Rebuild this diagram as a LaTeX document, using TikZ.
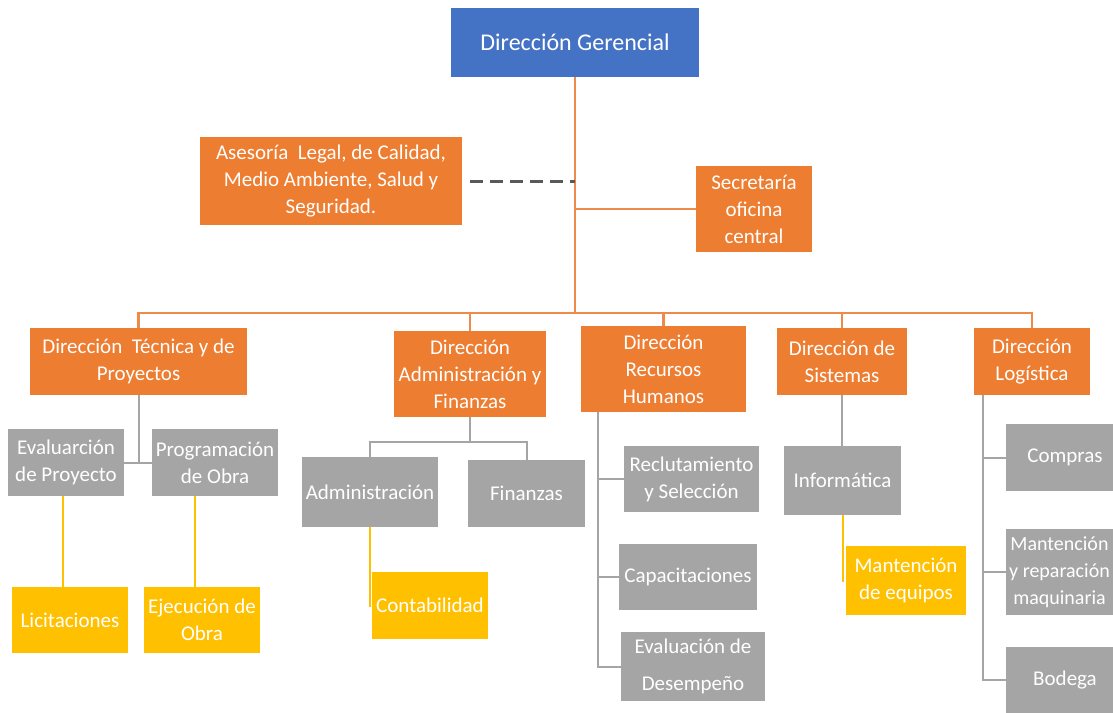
\documentclass[tikz,border=0pt]{standalone}
\usepackage{fontspec}
\setmainfont{Carlito}
\usetikzlibrary{calc}
\definecolor{cblue}{HTML}{4472C4}
\definecolor{corange}{HTML}{ED7D31}
\definecolor{cgray}{HTML}{A5A5A5}
\definecolor{cyellow}{HTML}{FFC000}
\definecolor{cdark}{HTML}{595959}
\definecolor{clineor}{HTML}{F08A4B}
\tikzset{
  box/.style={inner sep=0pt, align=center, text=white, font=\fontsize{21}{27}\selectfont},
  bluebox/.style={box, fill=cblue, font=\fontsize{24}{29}\selectfont},
  orangebox/.style={box, fill=corange},
  graybox/.style={box, fill=cgray},
  yellowbox/.style={box, fill=cyellow},
  sz/.style 2 args={minimum width=#1pt, minimum height=#2pt},
  orangeline/.style={draw=clineor, line width=2.5pt},
  grayline/.style={draw=cgray, line width=2pt},
  yellowline/.style={draw=cyellow, line width=2pt},
  dashline/.style={draw=cdark, line width=3pt, dash pattern=on 13pt off 7pt},
}
\begin{document}
\begin{tikzpicture}[x=1pt,y=-1pt]
\useasboundingbox (0,0) rectangle (1113,712);
\clip (0,0) rectangle (1113,712);
% top
\node[bluebox, sz={248}{69}] (G) at (575,42.5) {Dirección Gerencial};
\node[orangebox, sz={262}{88}] (Asesoria) at (331,181) {Asesoría\ \ Legal, de Calidad,\\Medio Ambiente, Salud y\\Seguridad.};
\node[orangebox, sz={116}{86}] (Secretaria) at (754,209) {Secretaría\\oficina\\central};
% directors
\node[orangebox, sz={217}{67}] (Tecnica) at (138.5,361.5) {Dirección\ \ Técnica y de\\Proyectos};
\node[orangebox, sz={152}{86}] (Admin) at (470,374) {Dirección\\Administración y\\Finanzas};
\node[orangebox, sz={165}{86}] (RH) at (663.5,369) {Dirección\\Recursos\\Humanos};
\node[orangebox, sz={130}{67}] (Sistemas) at (842,361.5) {Dirección de\\Sistemas};
\node[orangebox, sz={116}{67}] (Logistica) at (1032,361.5) {Dirección\\Logística};
% level 2
\node[graybox, sz={116}{67}] (Evaluarcion) at (66,462.5) {Evaluarción\\de Proyecto};
\node[graybox, sz={126}{67}] (Programacion) at (215,462.5) {Programación\\de Obra};
\node[yellowbox, sz={116}{66}] (Licitaciones) at (70,620) {Licitaciones};
\node[yellowbox, sz={116}{66}] (Ejecucion) at (202,620) {Ejecución de\\Obra};
\node[graybox, sz={136}{70}] (Administracion) at (370,492) {Administración};
\node[graybox, sz={117}{67}] (Finanzas) at (526.5,493.5) {Finanzas};
\node[yellowbox, sz={116}{67}] (Contabilidad) at (430,605.5) {Contabilidad};
\node[graybox, sz={135}{66}] (Reclut) at (691.5,479) {Reclutamiento\\y Selección};
\node[graybox, sz={138}{66}] (Capac) at (688,577) {Capacitaciones};
\node[graybox, sz={144}{69}] (EvalDes) at (693,666.5) {Evaluación de\\[10pt]Desempeño};
\node[graybox, sz={117}{69}] (Informatica) at (842.5,480.5) {Informática};
\node[yellowbox, sz={120}{69}] (Mantequipos) at (906,580.5) {Mantención\\de equipos};
\node[graybox, sz={118}{67}] (Compras) at (1065,457.5) {Compras};
\node[graybox, sz={107}{86}, font=\fontsize{20}{27}\selectfont] (Mantrep) at (1059.5,572) {Mantención\\y reparación\\maquinaria};
\node[graybox, sz={118}{66}] (Bodega) at (1065,680) {Bodega};
% orange connectors
\coordinate (bus) at (575,313);
\draw[orangeline] (G.south) -- (bus);
\draw[orangeline] (Secretaria.west) -- (Secretaria.west -| G.south);
\draw[dashline] ($(Asesoria.east)+(8,0)$) -- (Asesoria.east -| G.south);
\draw[orangeline] (Tecnica.north) -- (Tecnica.north |- bus) -- (Logistica.north |- bus) -- (Logistica.north);
\draw[orangeline] (Admin.north) -- (Admin.north |- bus);
\draw[orangeline] (RH.north) -- (RH.north |- bus);
\draw[orangeline] (Sistemas.north) -- (Sistemas.north |- bus);
% gray connectors
\draw[grayline] (Tecnica.south) -- (Tecnica.south |- Evaluarcion.east);
\draw[grayline] (Evaluarcion.east) -- (Programacion.west);
\coordinate (ab) at (470,442);
\draw[grayline] (Admin.south) -- (ab);
\draw[grayline] (Administracion.north) |- (ab) -| (Finanzas.north);
\coordinate (rhtop) at (598,412);
\draw[grayline] (rhtop) |- (EvalDes.west);
\draw[grayline] (rhtop |- Reclut.west) -- (Reclut.west);
\draw[grayline] (rhtop |- Capac.west) -- (Capac.west);
\draw[grayline] (Sistemas.south) -- (Sistemas.south |- Informatica.north);
\coordinate (lgtop) at (983,395);
\draw[grayline] (lgtop) |- (Bodega.west);
\draw[grayline] (lgtop |- Compras.west) -- (Compras.west);
\draw[grayline] (lgtop |- Mantrep.west) -- (Mantrep.west);
% yellow connectors
\coordinate (ev) at (63,587);
\draw[yellowline] (ev) -- (ev |- Evaluarcion.south);
\coordinate (ej) at (195,587);
\draw[yellowline] (ej) -- (ej |- Programacion.south);
\coordinate (ad) at (370,607);
\draw[yellowline] (ad) -- (ad |- Administracion.south);
\coordinate (inf) at (843,582);
\draw[yellowline] (inf) -- (inf |- Informatica.south);
\end{tikzpicture}
\end{document}
